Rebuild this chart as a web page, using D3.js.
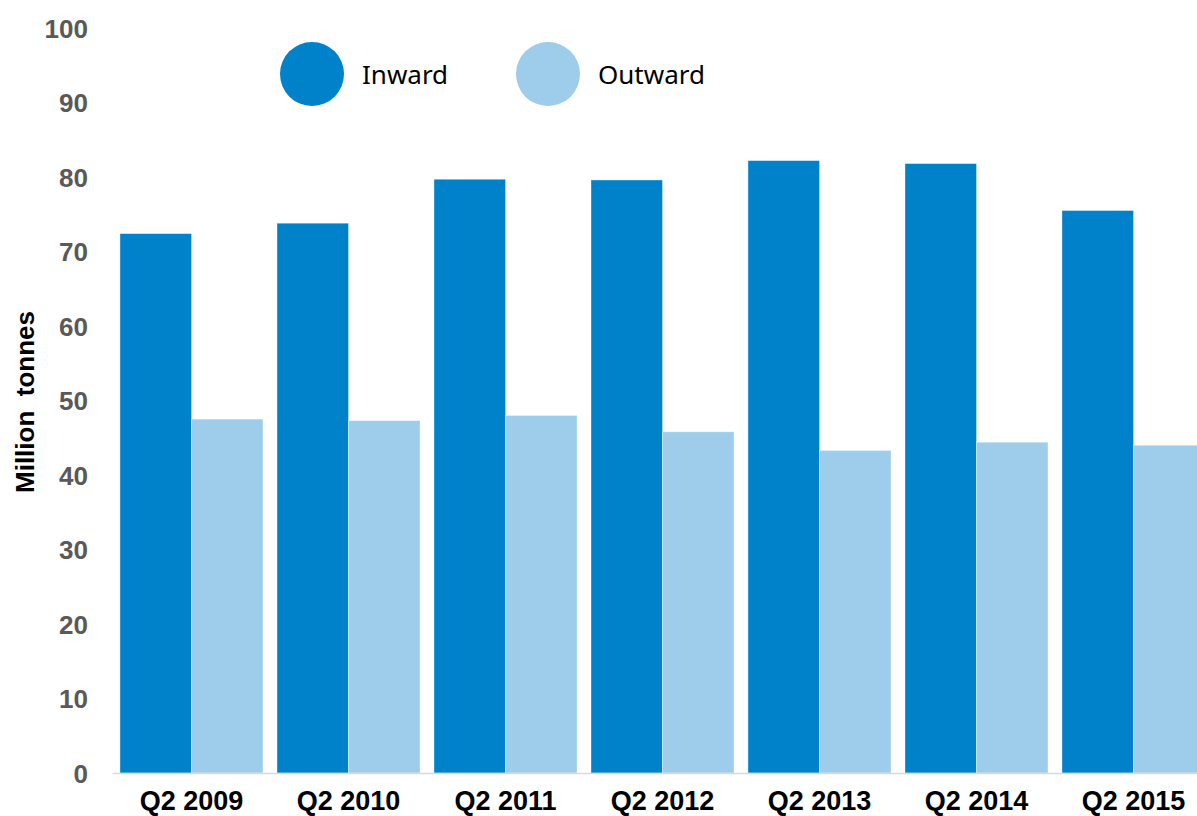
<!DOCTYPE html>
<html>
<head>
<meta charset="utf-8">
<script src="https://cdn.jsdelivr.net/npm/d3@7"></script>
<style>
  html, body { margin: 0; padding: 0; background: #fff; }
  svg { display: block; }
</style>
</head>
<body>
<svg id="chart" width="1197" height="816"></svg>
<script>
const categories = ["Q2 2009", "Q2 2010", "Q2 2011", "Q2 2012", "Q2 2013", "Q2 2014", "Q2 2015"];
const seriesNames = ["Inward", "Outward"];
const inward = [72.4, 73.8, 79.7, 79.6, 82.2, 81.8, 75.5];
const outward = [47.5, 47.3, 48.0, 45.8, 43.3, 44.4, 44.0];
const yTicks = [0, 10, 20, 30, 40, 50, 60, 70, 80, 90, 100];
const colors = ["#0082CA", "#9DCDEA"];
const yTitle = "Million  tonnes";

(function () {
const svg = d3.select("#chart");
const W = 1197, H = 816;
const mLeft = 113, mBottom = 773, mTop = 28;

const step = 157;
const x = d3.scaleBand()
  .domain(categories)
  .range([mLeft, mLeft + step * categories.length])
  .paddingInner(14 / step)
  .paddingOuter(7 / step);
const xs = d3.scaleBand().domain(seriesNames).range([0, x.bandwidth()]);
const y = d3.scaleLinear().domain([0, 100]).range([mBottom, mTop]);

const data = categories.map((c, i) => ({ cat: c, values: [inward[i], outward[i]] }));

const groups = svg.append("g").selectAll("g").data(data).join("g")
  .attr("transform", d => `translate(${x(d.cat)},0)`);
groups.selectAll("rect")
  .data(d => d.values.map((v, j) => ({ name: seriesNames[j], v, j })))
  .join("rect")
  .attr("x", d => xs(d.name))
  .attr("width", xs.bandwidth())
  .attr("y", d => y(d.v))
  .attr("height", d => y(0) - y(d.v))
  .attr("fill", d => colors[d.j])
  .attr("stroke", "rgba(255,255,255,0.45)")
  .attr("stroke-width", 0.8);

// x axis
const xAxis = d3.axisBottom(x).tickSize(0).tickPadding(0);
const gx = svg.append("g").attr("transform", `translate(0,${mBottom})`).call(xAxis);
gx.select(".domain").remove();
svg.append("line").attr("x1", mLeft).attr("x2", W).attr("y1", mBottom + 0.5).attr("y2", mBottom + 0.5)
  .attr("stroke", "#d9d9d9").attr("stroke-width", 1.5);
gx.selectAll("text")
  .attr("dy", null)
  .attr("y", 37)
  .style("font-family", "'Liberation Sans', Arial, sans-serif")
  .style("font-weight", "bold")
  .style("font-size", "27px")
  .attr("fill", "#000");

// y axis
const yAxis = d3.axisLeft(y).tickValues(yTicks).tickSize(0).tickPadding(0);
const gy = svg.append("g").attr("transform", `translate(88,0)`).call(yAxis);
gy.select(".domain").remove();
gy.selectAll("text")
  .attr("dy", "0.36em")
  .style("font-family", "'Liberation Sans', Arial, sans-serif")
  .style("font-weight", "bold")
  .style("font-size", "26px")
  .attr("fill", "#595959");

// y title
svg.append("text")
  .attr("transform", `translate(34,402) rotate(-90)`)
  .attr("text-anchor", "middle")
  .style("font-family", "'Liberation Sans', Arial, sans-serif")
  .style("font-weight", "bold")
  .style("font-size", "26px")
  .style("white-space", "pre")
  .attr("fill", "#000")
  .text(yTitle);

// legend
const legendX = [312, 548];
const lg = svg.append("g").selectAll("g").data(seriesNames).join("g")
  .attr("transform", (d, i) => `translate(${legendX[i]},74)`);
lg.append("circle").attr("r", 32).attr("fill", (d, i) => colors[i]);
lg.append("text")
  .attr("x", 50).attr("y", 10)
  .style("font-family", "'Noto Sans', sans-serif")
  .style("font-size", "26px")
  .attr("fill", "#000")
  .text(d => d);
})();
</script>
</body>
</html>
